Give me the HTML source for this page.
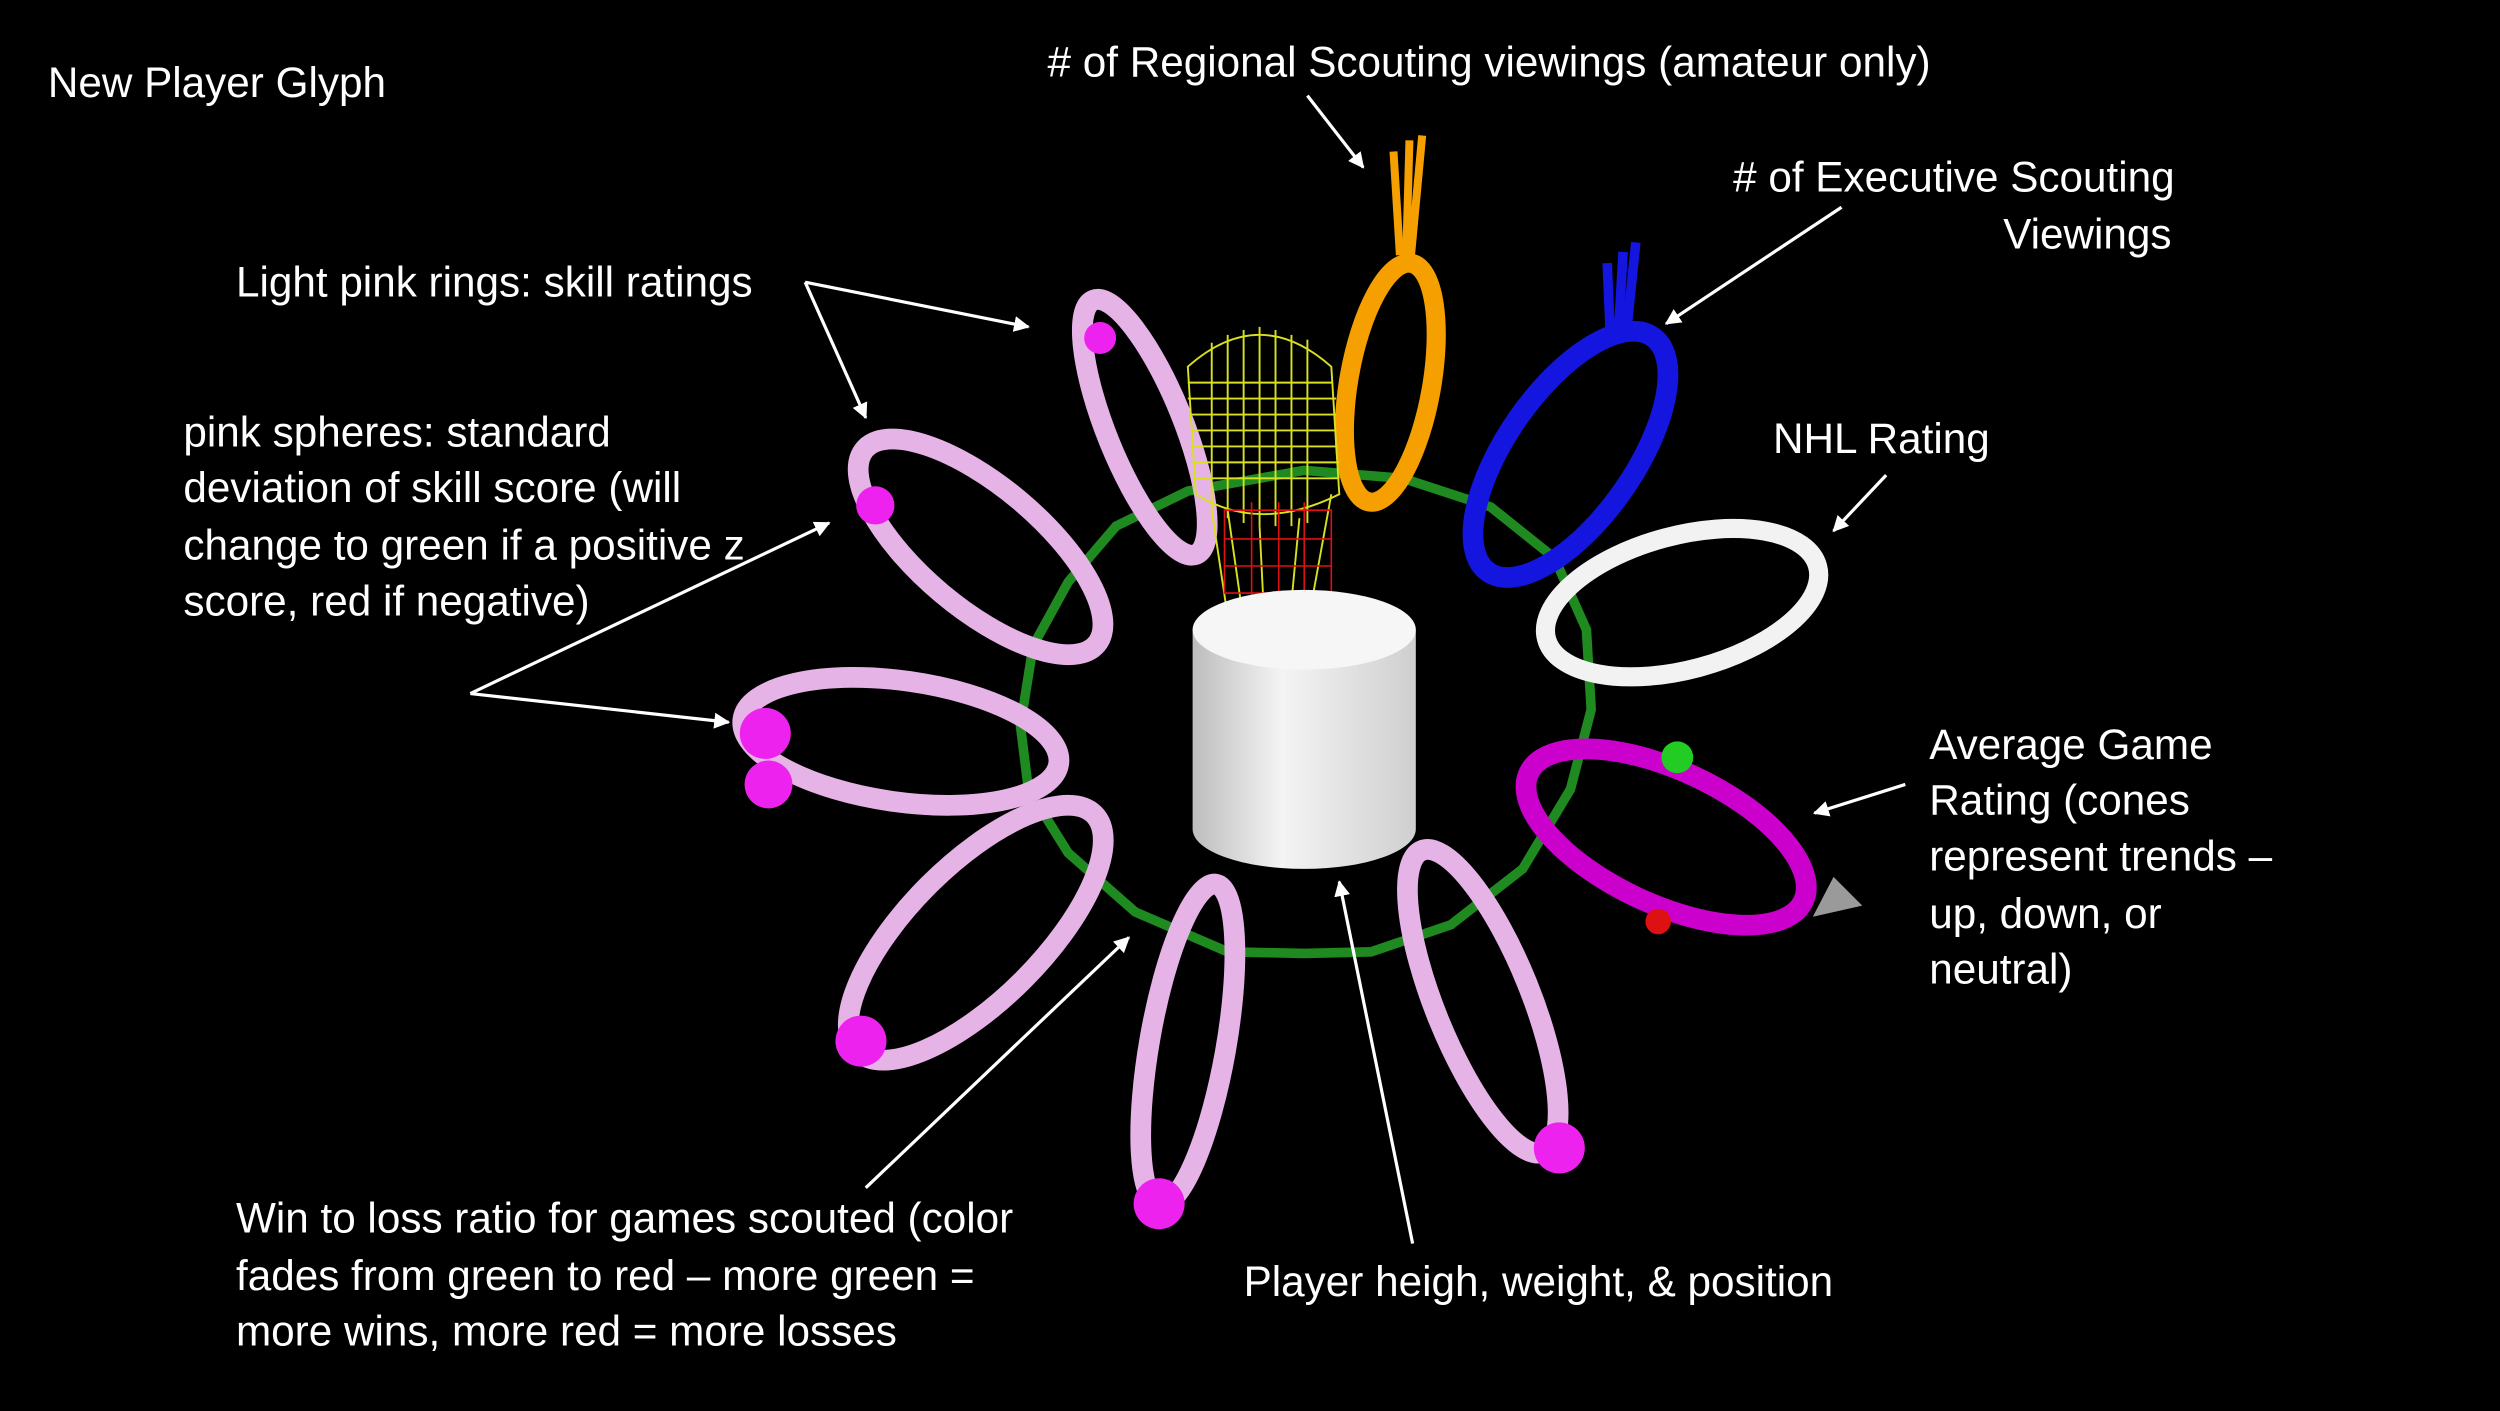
<!DOCTYPE html>
<html><head><meta charset="utf-8"><style>
html,body{margin:0;padding:0;background:#000;width:2500px;height:1411px;overflow:hidden}
svg{display:block}
text{font-family:"Liberation Sans",sans-serif;font-size:26.5px;fill:#fff}
</style></head><body>
<svg width="2500" height="1411" viewBox="0 0 1568 885" preserveAspectRatio="none">
<defs>
<marker id="ah" markerWidth="10" markerHeight="10" refX="9" refY="5" orient="auto" markerUnits="userSpaceOnUse"><path d="M0,0 L10,5 L0,10 z" fill="#fff"/></marker>
<linearGradient id="cyl" x1="0" x2="1"><stop offset="0" stop-color="#bdbdbd"/><stop offset="0.4" stop-color="#f4f4f4"/><stop offset="1" stop-color="#cfcfcf"/></linearGradient>
</defs>
<rect width="1568" height="885" fill="#000"/>
<polygon points="818,295 880,300 935,318 975,350 995,395 998,445 985,495 955,545 910,580 860,597 818,598 770,597 712,572 670,535 645,495 640,455 648,405 670,365 700,330 745,308" fill="none" stroke="#1f8a1f" stroke-width="6"/>
<ellipse cx="718" cy="268" rx="24" ry="86" transform="rotate(-22 718 268)" fill="none" stroke="#e6b3e6" stroke-width="13"/>
<ellipse cx="615" cy="343" rx="95" ry="38" transform="rotate(40 615 343)" fill="none" stroke="#e6b3e6" stroke-width="13"/>
<ellipse cx="872" cy="240" rx="26" ry="76" transform="rotate(10 872 240)" fill="none" stroke="#f5a000" stroke-width="12"/>
<g stroke="#f5a000" stroke-width="5"><line x1="878" y1="160" x2="874" y2="95"/><line x1="882" y1="160" x2="884" y2="88"/><line x1="885" y1="160" x2="892" y2="85"/></g>
<ellipse cx="985" cy="285" rx="40" ry="90" transform="rotate(35 985 285)" fill="none" stroke="#1515e0" stroke-width="13"/>
<g stroke="#1515e0" stroke-width="6"><line x1="1010" y1="210" x2="1008" y2="165"/><line x1="1015" y1="210" x2="1018" y2="158"/><line x1="1020" y1="210" x2="1026" y2="152"/></g>
<ellipse cx="1055" cy="378" rx="88" ry="42" transform="rotate(-15 1055 378)" fill="none" stroke="#f2f2f2" stroke-width="12"/>
<g stroke="#d8e020" stroke-width="1.2" fill="none">
<path d="M745,230 Q790,190 835,230 L840,310 Q790,335 750,310 Z"/>
<path d="M745,240 H836 M745,250 H838 M746,260 H838 M747,270 H838 M747,280 H839 M748,290 H840 M749,300 H840 M760,215 V320 M770,210 V325 M780,207 V328 M790,205 V330 M800,207 V330 M810,210 V330 M820,213 V328"/>
<path d="M760,320 L775,420 M790,330 L795,430 M815,325 L805,430 M835,310 L815,420 M770,320 L785,425"/>
</g>
<g stroke="#e01010" stroke-width="1" fill="none">
<path d="M768,320 H835 V372 H768 Z M768,338 H835 M768,355 H835 M785,315 V378 M802,315 V380 M818,315 V378"/>
<path d="M780,375 L785,430 M800,378 L800,432 M820,375 L812,430"/>
</g>
<path d="M748,395 L748,520 A70,25 0 0 0 888,520 L888,395 Z" fill="url(#cyl)"/>
<ellipse cx="818" cy="395" rx="70" ry="25" fill="#f6f6f6"/>
<ellipse cx="565" cy="465" rx="100" ry="38" transform="rotate(8 565 465)" fill="none" stroke="#e6b3e6" stroke-width="13"/>
<ellipse cx="612" cy="585" rx="105" ry="42" transform="rotate(-45 612 585)" fill="none" stroke="#e6b3e6" stroke-width="13"/>
<ellipse cx="745" cy="655" rx="24" ry="102" transform="rotate(10 745 655)" fill="none" stroke="#e6b3e6" stroke-width="13"/>
<ellipse cx="930" cy="628" rx="30" ry="102" transform="rotate(-22 930 628)" fill="none" stroke="#e6b3e6" stroke-width="13"/>
<ellipse cx="1045" cy="525" rx="95" ry="42" transform="rotate(25 1045 525)" fill="none" stroke="#cc00cc" stroke-width="13"/>
<circle cx="1052" cy="475" r="10" fill="#22cc22"/>
<circle cx="1040" cy="578" r="8" fill="#dd1111"/>
<polygon points="1137,575 1168,568 1150,550" fill="#9a9a9a"/>
<g fill="#ee22ee">
<circle cx="690" cy="212" r="10"/><circle cx="549" cy="317" r="12"/><circle cx="482" cy="492" r="15"/><circle cx="480" cy="460" r="16"/>
<circle cx="540" cy="653" r="16"/><circle cx="727" cy="755" r="16"/><circle cx="978" cy="720" r="16"/>
</g>
<g stroke="#fff" stroke-width="2" marker-end="url(#ah)">
<line x1="820" y1="60" x2="855" y2="105"/>
<line x1="1155" y1="130" x2="1045" y2="203"/>
<line x1="505" y1="177" x2="645" y2="205"/>
<line x1="505" y1="177" x2="543" y2="262"/>
<line x1="295" y1="435" x2="520" y2="328"/>
<line x1="295" y1="435" x2="457" y2="453"/>
<line x1="1183" y1="298" x2="1150" y2="333"/>
<line x1="1195" y1="492" x2="1138" y2="510"/>
<line x1="543" y1="745" x2="708" y2="588"/>
<line x1="886" y1="780" x2="840" y2="553"/>
</g>
<text x="30" y="61">New Player Glyph</text>
<text x="657" y="48">#  of Regional Scouting viewings (amateur only)</text>
<text x="1087" y="120">#  of Executive Scouting</text>
<text x="1362" y="156" text-anchor="end">Viewings</text>
<text x="148" y="186">Light pink rings: skill ratings</text>
<text x="115" y="280">pink spheres: standard</text>
<text x="115" y="315">deviation of skill score (will</text>
<text x="115" y="351">change to green if a positive z</text>
<text x="115" y="386">score, red if negative)</text>
<text x="1112" y="284">NHL Rating</text>
<text x="1210" y="476">Average Game</text>
<text x="1210" y="511">Rating (cones</text>
<text x="1210" y="546">represent trends –</text>
<text x="1210" y="582">up, down, or</text>
<text x="1210" y="617">neutral)</text>
<text x="148" y="773">Win to loss ratio for games scouted (color</text>
<text x="148" y="809">fades from green to red – more green =</text>
<text x="148" y="844">more wins, more red = more losses</text>
<text x="780" y="813">Player heigh, weight, &amp; position</text>
</svg>
</body></html>
